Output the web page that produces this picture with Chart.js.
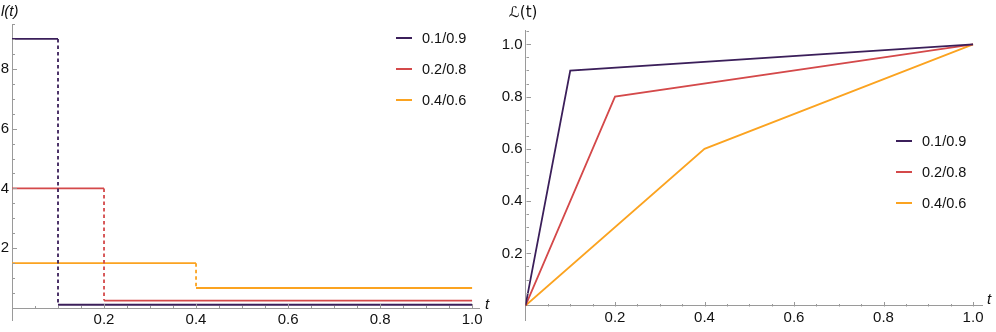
<!DOCTYPE html>
<html>
<head>
<meta charset="utf-8">
<script src="https://cdn.jsdelivr.net/npm/chart.js@4.4.0/dist/chart.umd.min.js"></script>
<style>
  body { margin: 0; background: #fff; font-family: "Liberation Sans", Arial, sans-serif; }
  #wrap { position: relative; width: 996px; height: 332px; }
  .panel { position: absolute; top: 0; width: 498px; height: 332px; }
  .lab { position: absolute; font-size: 15px; color: #111; white-space: nowrap; line-height: 1; }
  .row { position: absolute; height: 20px; display: flex; align-items: center; font-size: 14.5px; color: #111; white-space: nowrap; }
  .row .sw { display: inline-block; width: 16px; height: 2px; margin-right: 10px; }
</style>
</head>
<body>
<div id="wrap">
  <div class="panel" style="left:0"><canvas id="grafico1" width="498" height="332"></canvas></div>
  <div class="panel" style="left:498px"><canvas id="grafico2" width="498" height="332"></canvas></div>
  <div class="lab" style="left:1px;top:3px;font-style:italic">l(t)</div>
  <div class="lab" style="left:485px;top:296px;font-style:italic">t</div>
  <div class="lab" style="left:509px;top:5px;font-family:'DejaVu Sans',sans-serif;font-size:15px">ℒ(t)</div>
  <div class="lab" style="left:987px;top:291px;font-style:italic">t</div>
</div>
<script>
// séries (divisão população/renda)
const labels = ['0.1/0.9', '0.2/0.8', '0.4/0.6'];
const colors = ['#3b1f5a', '#d4494a', '#fba320'];

// gráfico da esquerda: l(t) em degraus
const cut = [0.1, 0.2, 0.4];
const levelBefore = [9, 4, 1.5];
const levelAfter = [0.11, 0.25, 0.67];

// gráfico da direita: curva de Lorenz
const lorenzT = [[0, 0.1, 1], [0, 0.2, 1], [0, 0.4, 1]];
const lorenzL = [[0, 0.9, 1], [0, 0.8, 1], [0, 0.6, 1]];

// rótulos dos eixos
const xTicks = [0.2, 0.4, 0.6, 0.8, 1.0];
const yTicksLeft = [2, 4, 6, 8];
const yTicksRight = [0.2, 0.4, 0.6, 0.8, 1.0];

const axisGray = '#9a9a9a';
const tickFont = { family: 'Liberation Sans', size: 15 };

// marcas de escala pequenas viradas para dentro (estilo Mathematica)
const tickMarks = {
  id: 'tickMarks',
  afterDatasetsDraw(chart, args, opts) {
    const { ctx, scales: { x, y } } = chart;
    const x0 = Math.round(x.getPixelForValue(0)) + 0.5;
    const y0 = Math.round(y.getPixelForValue(0)) + 0.5;
    const isMajor = (v, m) => Math.abs(v / m - Math.round(v / m)) < 1e-6;
    ctx.save();
    ctx.strokeStyle = axisGray;
    ctx.lineWidth = 1;
    ctx.beginPath();
    for (let i = 1; i * opts.xStep <= x.max + 1e-9; i++) {
      const v = i * opts.xStep;
      const px = Math.round(x.getPixelForValue(v)) + 0.5;
      ctx.moveTo(px, y0);
      ctx.lineTo(px, y0 - (isMajor(v, opts.xMajor) ? 4.5 : 2.5));
    }
    for (let i = 1; i * opts.yStep <= y.max + 1e-9; i++) {
      const v = i * opts.yStep;
      const py = Math.round(y.getPixelForValue(v)) + 0.5;
      ctx.moveTo(x0, py);
      ctx.lineTo(x0 + (isMajor(v, opts.yMajor) ? 4.5 : 2.5), py);
    }
    ctx.stroke();
    ctx.restore();
  }
};

function scales(xMax, yMin, yMax, yTicks, yWidth, xHeight) {
  return {
    x: {
      type: 'linear', min: 0, max: xMax,
      position: { y: 0 },
      afterBuildTicks: s => { s.ticks = xTicks.map(v => ({ value: v })); },
      afterFit: s => { s.height = xHeight; },
      grid: { display: false, drawTicks: false },
      border: { display: true, color: axisGray, width: 1 },
      ticks: { font: tickFont, color: '#111', padding: 3, maxRotation: 0, callback: v => v.toFixed(1) }
    },
    y: {
      type: 'linear', min: yMin, max: yMax,
      position: 'left',
      afterBuildTicks: s => { s.ticks = yTicks.map(v => ({ value: v })); },
      afterFit: s => { s.width = yWidth; },
      grid: { display: false, drawTicks: false },
      border: { display: true, color: axisGray, width: 1 },
      ticks: { font: tickFont, color: '#111', padding: 3,
               callback: v => (yMax < 2 ? v.toFixed(1) : String(v)) }
    }
  };
}

// degraus: trechos horizontais contínuos + salto vertical tracejado
const stepSets = [];
labels.forEach((lab, i) => {
  stepSets.push({
    label: lab,
    data: [
      { x: 0, y: levelBefore[i] },
      { x: cut[i], y: levelBefore[i] },
      { x: cut[i], y: null },
      { x: cut[i], y: levelAfter[i] },
      { x: 1, y: levelAfter[i] }
    ],
    borderColor: colors[i],
    borderWidth: 1.8,
    pointRadius: 0,
    spanGaps: false
  });
  stepSets.push({
    label: lab + ' salto',
    data: [
      { x: cut[i], y: levelBefore[i] },
      { x: cut[i], y: levelAfter[i] }
    ],
    borderColor: colors[i],
    borderWidth: 1.8,
    borderDash: [3.5, 3],
    pointRadius: 0
  });
});

// Criação do gráfico de degraus (grafico1)
new Chart(document.getElementById('grafico1'), {
  type: 'line',
  data: { datasets: stepSets },
  options: {
    responsive: false,
    animation: false,
    layout: { padding: { top: 24, right: 19, left: 0, bottom: 0 } },
    scales: scales(1.015, -0.4, 9.5, yTicksLeft, 12, 12),
    plugins: {
      legend: { display: false },
      tooltip: { enabled: false },
      tickMarks: { xStep: 0.05, xMajor: 0.2, yStep: 0.5, yMajor: 2 }
    }
  },
  plugins: [tickMarks]
});

// Criação do gráfico de Lorenz (grafico2)
new Chart(document.getElementById('grafico2'), {
  type: 'line',
  data: {
    datasets: labels.map((lab, i) => ({
      label: lab,
      data: lorenzT[i].map((t, k) => ({ x: t, y: lorenzL[i][k] })),
      borderColor: colors[i],
      borderWidth: 1.8,
      pointRadius: 0,
      tension: 0
    }))
  },
  options: {
    responsive: false,
    animation: false,
    layout: { padding: { top: 30, right: 14, left: 0, bottom: 0 } },
    scales: scales(1.02, -0.055, 1.055, yTicksRight, 27.5, 16),
    plugins: {
      legend: { display: false },
      tooltip: { enabled: false },
      tickMarks: { xStep: 0.05, xMajor: 0.2, yStep: 0.05, yMajor: 0.2 }
    }
  },
  plugins: [tickMarks]
});

// legendas em HTML
function legend(left, tops) {
  const wrap = document.getElementById('wrap');
  labels.forEach((lab, i) => {
    const row = document.createElement('div');
    row.className = 'row';
    row.style.left = left + 'px';
    row.style.top = (tops[i] - 10) + 'px';
    row.innerHTML = '<span class="sw" style="background:' + colors[i] + '"></span>' + lab;
    wrap.appendChild(row);
  });
}
legend(396, [38, 69, 100]);
legend(896, [141, 172, 203]);
</script>
</body>
</html>
